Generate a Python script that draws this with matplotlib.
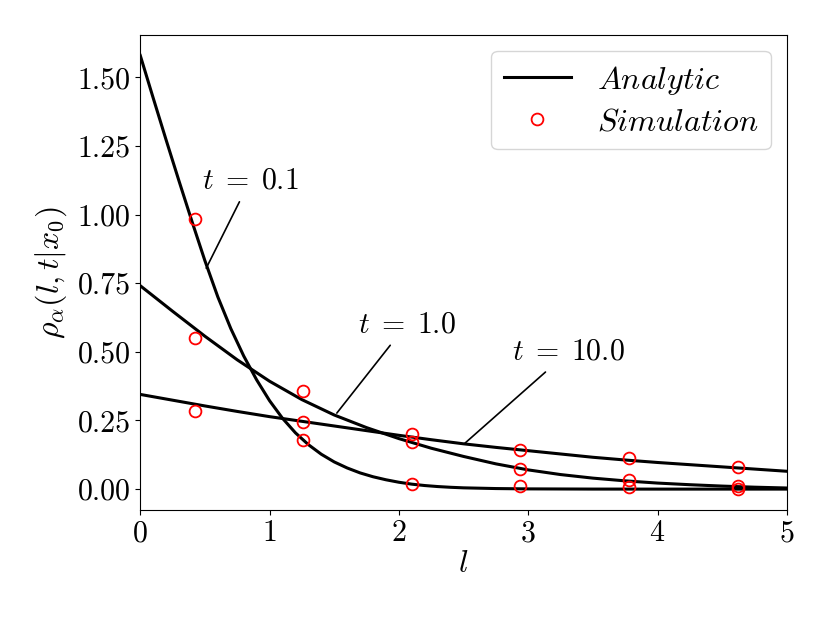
## rho_alpha(l, t | x0): analytic curves vs simulation

import numpy as np
import matplotlib
matplotlib.use('Agg')
import matplotlib.pyplot as plt

## Global Setting

plt.rcParams['font.family']               = 'serif'
plt.rcParams['font.serif']                = ['cmr10', 'DejaVu Serif']
plt.rcParams['mathtext.fontset']          = 'cm'
plt.rcParams['axes.formatter.use_mathtext'] = True
plt.rcParams['font.size']                 = 21.5

## Data

l_t01 = [0.0, 0.1, 0.2, 0.3, 0.4, 0.5, 0.6, 0.7, 0.8, 0.9, 1.0, 1.1, 1.2, 1.3,
         1.4, 1.5, 1.6, 1.7, 1.8, 1.9, 2.0, 2.1, 2.2, 2.3, 2.4, 2.5, 2.75,
         3.0, 3.5, 4.0, 4.5, 5.0]
rho_t01 = [1.580, 1.425, 1.272, 1.122, 0.975, 0.832, 0.700, 0.585, 0.485, 0.398,
           0.322, 0.258, 0.205, 0.162, 0.127, 0.099, 0.077, 0.059, 0.045, 0.034,
           0.025, 0.0180, 0.0130, 0.0093, 0.0066, 0.0046, 0.0020,
           0.0008, 0.0001, 0.0, 0.0, 0.0]

l_grid = [0.0, 0.25, 0.5, 0.75, 1.0, 1.25, 1.5, 1.75, 2.0, 2.25, 2.5,
          2.75, 3.0, 3.25, 3.5, 3.75, 4.0, 4.25, 4.5, 4.75, 5.0]
rho_t1 = [0.741, 0.648, 0.557, 0.471, 0.393, 0.326, 0.270, 0.224, 0.184, 0.149,
          0.119, 0.092, 0.070, 0.053, 0.040, 0.030, 0.022, 0.016, 0.011, 0.007,
          0.004]
rho_t10 = [0.345, 0.324, 0.303, 0.283, 0.264, 0.247, 0.230, 0.213, 0.196, 0.180,
           0.165, 0.152, 0.140, 0.128, 0.116, 0.106, 0.097, 0.089, 0.081, 0.073,
           0.065]

l_sim = [0.42, 1.26, 2.10, 2.94, 3.78, 4.62]
sim_t01 = [0.985, 0.178, 0.018, 0.011, 0.008, 0.002]
sim_t1  = [0.551, 0.358, 0.171, 0.075, 0.033, 0.012]
sim_t10 = [0.284, 0.246, 0.200, 0.144, 0.114, 0.081]

## Plot Statement

fig = plt.figure(figsize=(8.30, 6.23), dpi=100)
ax = fig.add_axes([0.169, 0.181, 0.779, 0.763])

ax.plot(l_t01, rho_t01, color='black', lw=2.2, label=r'$Analytic$')
ax.plot(l_grid, rho_t1, color='black', lw=2.2)
ax.plot(l_grid, rho_t10, color='black', lw=2.2)

mk = dict(ls='none', marker='o', mfc='none', mec='red', ms=8.5, mew=1.3)
ax.plot(l_sim, sim_t01, label=r'$Simulation$', **mk)
ax.plot(l_sim, sim_t1, **mk)
ax.plot(l_sim, sim_t10, **mk)

## Annotations

arrow = dict(arrowstyle='-', color='black', lw=1.2, shrinkA=4, shrinkB=0)
ax.annotate(r'$t\;=\;0.1$', xy=(0.51, 0.805), xytext=(0.85, 1.125),
            ha='center', va='center', arrowprops=arrow)
ax.annotate(r'$t\;=\;1.0$', xy=(1.52, 0.277), xytext=(2.06, 0.60),
            ha='center', va='center', arrowprops=arrow)
ax.annotate(r'$t\;=\;10.0$', xy=(2.51, 0.167), xytext=(3.31, 0.50),
            ha='center', va='center', arrowprops=arrow)

## Axes

ax.set_xlim(0, 5)
ax.set_ylim(-0.077, 1.655)
ax.set_xticks([0, 1, 2, 3, 4, 5])
ax.set_yticks([0.0, 0.25, 0.5, 0.75, 1.0, 1.25, 1.5])
ax.set_yticklabels(['0.00', '0.25', '0.50', '0.75', '1.00', '1.25', '1.50'])
ax.set_xlabel(r'$l$', fontsize=23, labelpad=2)
ax.set_ylabel(r'$\rho_\alpha(l,t|x_0)$', fontsize=23, labelpad=6)

ax.legend(loc='upper right', fontsize=23, handlelength=2.1,
          borderaxespad=0.5, labelspacing=0.35)

## Figure Output

fig.savefig('out.png', dpi=100)
